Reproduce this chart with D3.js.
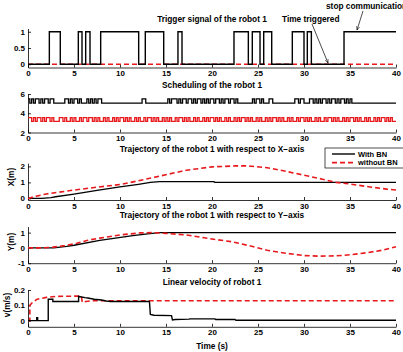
<!DOCTYPE html>
<html>
<head>
<meta charset="utf-8">
<script src="https://cdn.jsdelivr.net/npm/d3@7"></script>
<style>
  body { margin: 0; background: #fff; }
  svg text { font-family: "Liberation Sans", Arial, sans-serif; font-weight: bold; }
</style>
</head>
<body>
<div id="chart"></div>
<script>
var width = 403,
    height = 352;

// ---- data ----
var xTicks = [0, 5, 10, 15, 20, 25, 30, 35, 40];

// trigger signal: times at which the signal switches (starts at 0)
var triggerSwitch = [2.32, 3.51, 5.47, 5.87, 6.27, 6.74, 7.9, 12.03, 12.75, 14.75, 16.3, 16.74,
  22.39, 23.95, 24.38, 25.22, 25.62, 26.49, 28.73, 30.0, 30.36, 30.8, 34.35];
var triggerNoBN = [[0, 0], [40, 0]];

// scheduling: one char per 0.2 s, 1 = high level
var schedBN =
  "101011010110110" + "00000" + "1101011010" + "00" + "101010110" +
  "000000000000000000000" + "110" + "00000000000" + "101" +
  "11010110110101101010110110101101" + "101" + "00000000" + "101101" + "000" + "110" +
  "00000000000" + "110110" + "00" + "11010101101011010110101" + "000000000000000000000000";
var schedNoBN =
  "110101101011010" +
  "0011010010" + "1001011011" + "0101001010" + "0101011010" + "1001010010" +
  "1101010010" + "1010010110" + "1010010100" + "1010110101" + "0010100101" +
  "0110101001" + "0100101011" + "0101001010" + "0101101010" + "0101001011" +
  "0101001010" + "1101010010" + "1001010110" + "10100";
var schedLevelsBN = [5.05, 5.5];
var schedLevelsNoBN = [3.15, 3.55];

// trajectory X
var xTrajBN = [[0, 0], [1.5, 0], [2.5, 0.05], [3, 0.1], [5, 0.27], [7.5, 0.5], [10, 0.72],
  [12, 0.88], [13.3, 1.0], [14.3, 1.05], [20.2, 1.05], [20.3, 1.0], [40, 1.0]];
var xTrajNoBN = [[0, 0], [1, 0.15], [2, 0.28], [5, 0.52], [7.5, 0.7], [10, 0.87], [12, 1.1],
  [14.3, 1.39], [17.2, 1.76], [20, 1.97], [22.5, 2.03], [24, 2.03], [26, 1.92], [28, 1.7],
  [30, 1.45], [32, 1.2], [33.5, 1.0], [35, 0.9], [37, 0.73], [39, 0.58], [40, 0.52]];

// trajectory Y
var yTrajBN = [[0, 0], [2.8, 0], [4.2, 0.1], [5, 0.17], [7.8, 0.49], [11.4, 0.8], [13, 0.92],
  [14.3, 1.0], [40, 1.0]];
var yTrajNoBN = [[0, 0], [1.5, 0], [2.75, 0.05], [4, 0.15], [5.3, 0.3], [6.5, 0.5], [7.8, 0.64],
  [10, 0.85], [12.2, 0.98], [13.5, 1.0], [15, 0.95], [17.2, 0.85], [19.8, 0.6], [22.3, 0.39],
  [24, 0.15], [26, -0.15], [28, -0.35], [30, -0.5], [31.7, -0.54], [33.5, -0.52], [35, -0.45],
  [37, -0.3], [38.5, -0.15], [40, 0.08]];

// linear velocity
var velBN = [[0, 0], [0.95, 0], [0.95, 0.02], [1.05, 0.02], [1.05, 0], [2.2, 0], [2.2, 0.14],
  [2.7, 0.14], [2.7, 0.125], [5.5, 0.125], [5.5, 0.158], [6.2, 0.15], [6.5, 0.148], [7.2, 0.14],
  [8, 0.135], [8.5, 0.128], [9, 0.125], [13.2, 0.125], [13.3, 0.04], [13.7, 0.035], [15.6, 0.033],
  [15.7, 0.005], [16, 0.008], [17.5, 0.01], [17.6, 0.012], [20.3, 0.012], [20.4, 0.008],
  [22.5, 0.008], [22.6, 0.003], [40, 0.003]];
var velNoBN = [[0, 0], [0.2, 0], [0.2, 0.1], [0.5, 0.12], [1, 0.14], [2, 0.152], [3, 0.158],
  [5, 0.16], [5.8, 0.16], [5.9, 0.12], [6.3, 0.125], [7, 0.13], [40, 0.13]];

var legendLabels = ["With BN", "without BN"];

// ---- drawing ----
var svg = d3.select("#chart").append("svg")
  .attr("width", width)
  .attr("height", height);

var x = d3.scaleLinear().domain([0, 40]).range([28, 396]);

var panels = [
  { dom: [-0.1, 1.1], rng: [67.5, 28.5], ticks: [0, 0.5, 1] },
  { dom: [2, 6], rng: [132.5, 94], ticks: [2, 4, 6] },
  { dom: [-0.1, 2.2], rng: [200, 163.2], ticks: [0, 1, 2] },
  { dom: [-1, 1.4], rng: [263.2, 226.5], ticks: [-1, 0, 1] },
  { dom: [-0.04, 0.2], rng: [326.8, 290], ticks: [0, 0.1, 0.2] }
];

panels.forEach(function(p) {
  p.y = d3.scaleLinear().domain(p.dom).range(p.rng);
});

var line = function(p) {
  return d3.line().x(function(d) { return x(d[0]); }).y(function(d) { return p.y(d[1]); });
};

function drawSeries(p, data, dashed, color) {
  svg.append("path")
    .datum(data)
    .attr("fill", "none")
    .attr("stroke", color)
    .attr("stroke-width", dashed ? 1.6 : 1.4)
    .attr("stroke-dasharray", dashed ? "5,3" : null)
    .attr("d", line(p));
}

// turn the switch times into step points
function switchesToPoints(sw) {
  var pts = [[0, 0]], v = 0;
  sw.forEach(function(t) {
    pts.push([t, v]);
    v = 1 - v;
    pts.push([t, v]);
  });
  pts.push([40, v]);
  return pts;
}

function bitsToPoints(bits, levels) {
  var pts = [], dt = 0.2;
  for (var i = 0; i < bits.length; i++) {
    var t = Math.min(i * dt, 40);
    pts.push([t, levels[+bits[i]]]);
  }
  pts.push([40, pts[pts.length - 1][1]]);
  return pts;
}

function stepLine(p) {
  return d3.line().curve(d3.curveStepAfter)
    .x(function(d) { return x(d[0]); }).y(function(d) { return p.y(d[1]); });
}

// axes
panels.forEach(function(p) {
  svg.append("g")
    .attr("class", "axis")
    .attr("transform", "translate(0," + p.rng[0] + ")")
    .call(d3.axisBottom(x).tickValues(xTicks).tickSizeInner(-3).tickSizeOuter(0).tickPadding(3)
      .tickFormat(function(d) { return String(d); }));
  svg.append("g")
    .attr("class", "axis")
    .attr("transform", "translate(" + x.range()[0] + ",0)")
    .call(d3.axisLeft(p.y).tickValues(p.ticks).tickSizeInner(-3).tickSizeOuter(0).tickPadding(3)
      .tickFormat(function(d) { return String(d); }));
});

svg.selectAll(".axis text").style("font-size", "8px").attr("fill", "#000");
svg.selectAll(".axis path, .axis line").attr("stroke", "#000").attr("stroke-width", 0.8);

// panel 1: trigger
drawSeries(panels[0], triggerNoBN, true, "#e8191c");
drawSeries(panels[0], switchesToPoints(triggerSwitch), false, "#000");

// panel 2: scheduling
svg.append("path")
  .datum(bitsToPoints(schedNoBN, schedLevelsNoBN))
  .attr("fill", "none").attr("stroke", "#e8191c").attr("stroke-width", 1.3)
  .attr("d", stepLine(panels[1]));
svg.append("path")
  .datum(bitsToPoints(schedBN, schedLevelsBN))
  .attr("fill", "none").attr("stroke", "#000").attr("stroke-width", 1.3)
  .attr("d", stepLine(panels[1]));

// panel 3 & 4: trajectories
drawSeries(panels[2], xTrajBN, false, "#000");
drawSeries(panels[2], xTrajNoBN, true, "#e8191c");
drawSeries(panels[3], yTrajBN, false, "#000");
drawSeries(panels[3], yTrajNoBN, true, "#e8191c");

// panel 5: velocity
drawSeries(panels[4], velNoBN, true, "#e8191c");
drawSeries(panels[4], velBN, false, "#000");

// titles
var titles = [
  ["Trigger signal of the robot 1", 212, 21.5],
  ["Scheduling of the robot 1", 212, 87.5],
  ["Trajectory of the robot 1 with respect to X\u2212axis", 212, 151.5],
  ["Trajectory of the robot 1 with respect to Y\u2212axis", 212, 217.5],
  ["Linear velocity of robot 1", 212, 284.5],
  ["Time (s)", 212, 349]
];
svg.selectAll(".title")
  .data(titles)
  .enter().append("text")
  .attr("class", "title")
  .attr("x", function(d) { return d[1]; })
  .attr("y", function(d) { return d[2]; })
  .attr("text-anchor", "middle")
  .style("font-size", "8.3px")
  .text(function(d) { return d[0]; });

// y labels
var ylabels = [["X(m)", 14, 177], ["Y(m)", 14, 242], ["v(m/s)", 10, 305]];
svg.selectAll(".ylab")
  .data(ylabels)
  .enter().append("text")
  .attr("class", "ylab")
  .attr("transform", function(d) { return "translate(" + d[1] + "," + d[2] + ") rotate(-90)"; })
  .attr("text-anchor", "middle")
  .style("font-size", "8.3px")
  .text(function(d) { return d[0]; });

// annotations
svg.append("defs").append("marker")
  .attr("id", "arrow")
  .attr("viewBox", "0 0 10 10")
  .attr("refX", 9).attr("refY", 5)
  .attr("markerWidth", 6).attr("markerHeight", 6)
  .attr("orient", "auto")
  .append("path").attr("d", "M0,1L9,5L0,9").attr("fill", "none").attr("stroke", "#000").attr("stroke-width", 1.2);

svg.append("text").attr("x", 282).attr("y", 21.5).style("font-size", "8.3px").text("Time triggered");
svg.append("line").attr("x1", 312).attr("y1", 24).attr("x2", 328).attr("y2", 63)
  .attr("stroke", "#000").attr("stroke-width", 0.7).attr("marker-end", "url(#arrow)");
svg.append("text").attr("x", 326).attr("y", 8.5).style("font-size", "8.3px").text("stop communication");
svg.append("line").attr("x1", 363).attr("y1", 11).attr("x2", 357).attr("y2", 30)
  .attr("stroke", "#000").attr("stroke-width", 0.7).attr("marker-end", "url(#arrow)");

// legend
var lg = svg.append("g").attr("transform", "translate(325,148)");
lg.append("rect").attr("width", 85).attr("height", 20)
  .attr("fill", "#fff").attr("stroke", "#000").attr("stroke-width", 0.7);
lg.selectAll(".lgline")
  .data(legendLabels)
  .enter().append("line")
  .attr("x1", 7).attr("x2", 30)
  .attr("y1", function(d, i) { return 6 + i * 8.6; })
  .attr("y2", function(d, i) { return 6 + i * 8.6; })
  .attr("stroke", function(d, i) { return i ? "#e8191c" : "#000"; })
  .attr("stroke-width", function(d, i) { return i ? 1.6 : 1.4; })
  .attr("stroke-dasharray", function(d, i) { return i ? "5,3" : null; });
lg.selectAll(".lgtext")
  .data(legendLabels)
  .enter().append("text")
  .attr("x", 33)
  .attr("y", function(d, i) { return 8.7 + i * 8.6; })
  .style("font-size", "7.5px")
  .text(function(d) { return d; });
</script>
</body>
</html>
